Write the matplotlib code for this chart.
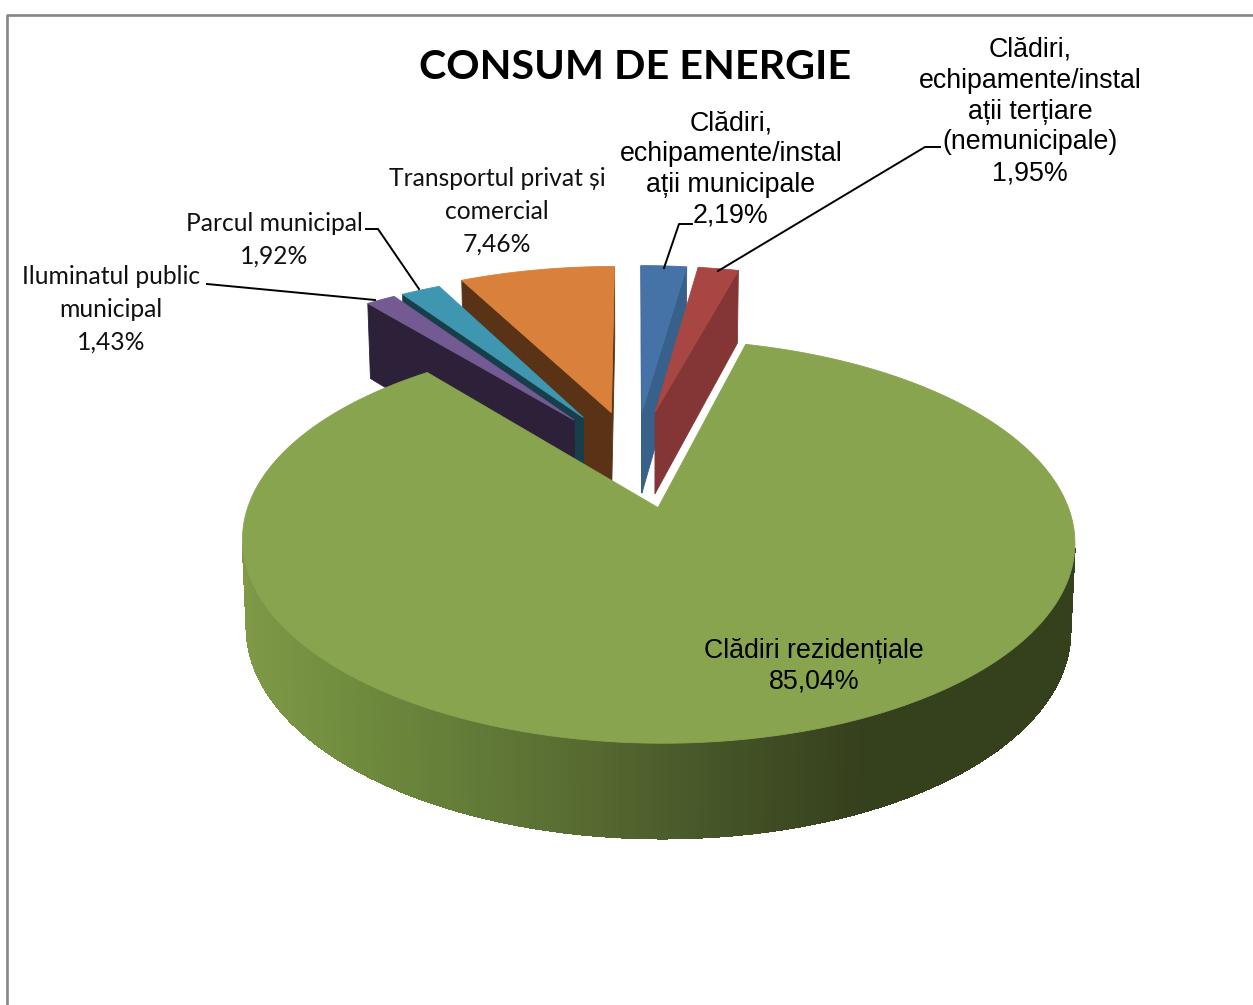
import numpy as np
import matplotlib
matplotlib.use("Agg")
import matplotlib.pyplot as plt
from matplotlib.colors import LinearSegmentedColormap
from matplotlib.patches import Polygon

# values in chart order, clockwise from 12 o'clock
categories = [
    "Clădiri,\nechipamente/instal\nații municipale",
    "Clădiri,\nechipamente/instal\nații terțiare\n(nemunicipale)",
    "Clădiri rezidențiale",
    "Iluminatul public\nmunicipal",
    "Parcul municipal",
    "Transportul privat și\ncomercial",
]
values = [2.19, 1.95, 85.04, 1.43, 1.92, 7.46]
value_labels = ["2,19%", "1,95%", "85,04%", "1,43%", "1,92%", "7,46%"]
top_colors = ["#4573a7", "#a84644", "#89a44e", "#745a92", "#3f96b0", "#d9813a"]
wall_colors = ["#37608a", "#843535", "#35401c", "#2c2138", "#173f4b", "#5a3216"]
title = "CONSUM DE ENERGIE"

# pie projection, in pixels
CX, CY = 635, 458
SCALE_X, SCALE_Y = 393, 180
PERSP = 0.16
EXPLODE = 0.27
BOTTOM_SHRINK = 0.99
# slices near the gap come out a little longer than the big one
slice_radius = [1.02, 1.02, 1.0, 1.0, 1.0, 1.02]


def project(px, py, bottom=False):
    w = 1 + PERSP * py
    x = SCALE_X * px / w
    y = CY - SCALE_Y * py / w
    if bottom:
        x = x * BOTTOM_SHRINK
        y = y + (84 - 9 * py)
    return CX + x, y


def signed_area(xs, ys):
    return 0.5 * np.sum(xs * np.roll(ys, -1) - np.roll(xs, -1) * ys)


def draw_face(ax, xs, ys, color, zorder, smooth=True):
    ax.add_patch(Polygon(np.column_stack([xs, ys]), closed=True, facecolor=color,
                         edgecolor=color, linewidth=0.6, zorder=zorder,
                         antialiased=smooth))


def draw_slice(ax, start, end, radius, top_color, wall_color, zorder, rim_cmap=None):
    mid = (start + end) / 2
    ox, oy = EXPLODE * np.sin(mid), EXPLODE * np.cos(mid)
    theta = np.linspace(start, end, max(int((end - start) * 120), 8))
    px = ox + radius * np.sin(theta)
    py = oy + radius * np.cos(theta)

    # outer rim
    tx, ty = project(px, py)
    bx, by = project(px, py, bottom=True)
    for i in range(len(theta) - 1):
        qx = np.array([tx[i], tx[i + 1], bx[i + 1], bx[i]])
        qy = np.array([ty[i], ty[i + 1], by[i + 1], by[i]])
        if signed_area(qx, qy) >= 0:
            continue
        if rim_cmap is None:
            color = wall_color
        else:
            color = rim_cmap((tx[i] - 240) / (1075 - 240))
        draw_face(ax, qx, qy, color, zorder, smooth=False)

    # radial walls, only the ones that face the camera
    ax0, ay0 = project(np.array([ox]), np.array([oy]))
    ax1, ay1 = project(np.array([ox]), np.array([oy]), bottom=True)
    for idx, sign in ((0, 1), (-1, -1)):
        qx = np.array([ax0[0], tx[idx], bx[idx], ax1[0]])
        qy = np.array([ay0[0], ty[idx], by[idx], ay1[0]])
        if sign * signed_area(qx, qy) < 0:
            draw_face(ax, qx, qy, wall_color, zorder + 0.1)

    # top surface
    draw_face(ax, np.r_[ax0, tx], np.r_[ay0, ty], top_color, zorder + 0.2)


fig = plt.figure(figsize=(12.53, 10.05), dpi=100)
ax = fig.add_axes([0, 0, 1, 1])
ax.set_xlim(0, 1253)
ax.set_ylim(1005, 0)
ax.axis("off")

# chart frame, cut off by the right and bottom edges of the picture
ax.plot([7, 7, 1253], [1005, 14.5, 14.5], color="#868686", lw=1.9, zorder=1)

edges = np.r_[0, np.cumsum(values)] / np.sum(values) * 2 * np.pi
green_rim = LinearSegmentedColormap.from_list(
    "green_rim",
    [(0, "#7f9947"), (0.15, "#6e8a3d"), (0.38, "#5a6f33"), (0.62, "#414f25"),
     (0.75, "#35401c"), (1, "#35401c")],
)

# back to front: the slices left of the gap first, the big one last
for z, i in enumerate([5, 4, 3, 0, 1, 2]):
    draw_slice(ax, edges[i], edges[i + 1], slice_radius[i], top_colors[i],
               wall_colors[i], 2 + z, rim_cmap=green_rim if i == 2 else None)

ax.text(635, 67, title, fontsize=29.7, fontweight="bold", family="Lato",
        ha="center", va="center", color="black", zorder=20)

# data labels
arial_label = dict(family="Liberation Sans", fontsize=19.3, linespacing=1.24,
                   ha="center", va="center", color="black", zorder=20)
lato_label = dict(family="Lato", fontsize=17.7, linespacing=1.52,
                  ha="center", va="center", color="#111111", zorder=20)
ax.text(731, 169.5, categories[0] + "\n" + value_labels[0], **arial_label)
ax.text(1030, 111.5, categories[1] + "\n" + value_labels[1], **arial_label)
ax.text(814, 666.5, categories[2] + "\n" + value_labels[2], **arial_label)
ax.text(111, 309, categories[3] + "\n" + value_labels[3], **lato_label)
ax.text(274, 239.5, categories[4] + "\n" + value_labels[4], **lato_label)
ax.text(497, 211, categories[5] + "\n" + value_labels[5], **lato_label)

# leader lines
leader_x = [[664, 679, 692], [718, 925, 940], [419, 378, 366], [375, 207]]
leader_y = [[268, 224, 224], [271, 147, 147], [289, 229, 229], [300, 284]]
for lx, ly in zip(leader_x, leader_y):
    ax.plot(lx, ly, color="black", lw=1.4, zorder=21)

fig.savefig("out.png", dpi=100)
